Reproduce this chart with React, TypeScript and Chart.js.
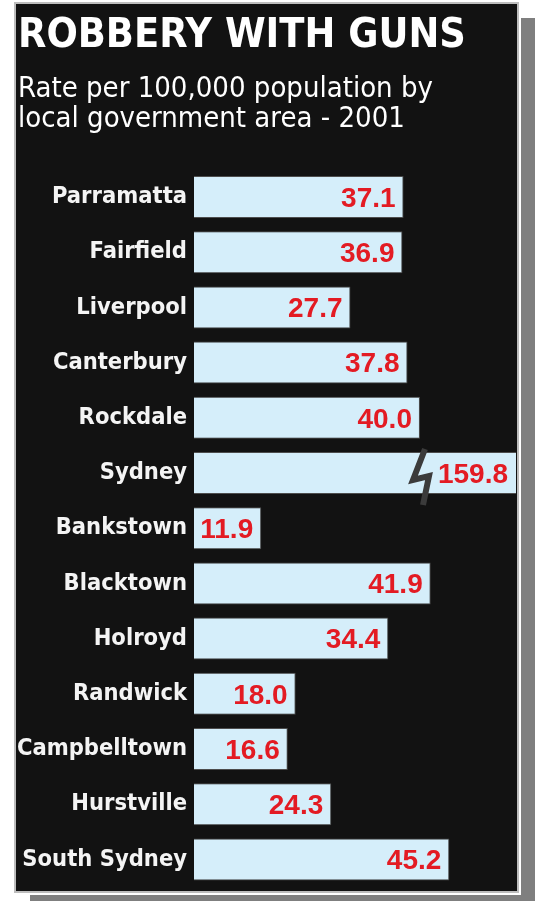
import React, { useEffect, useRef } from 'react';
import { Chart, registerables } from 'chart.js';

Chart.register(...registerables);

const categories = [
  'Parramatta',
  'Fairfield',
  'Liverpool',
  'Canterbury',
  'Rockdale',
  'Sydney',
  'Bankstown',
  'Blacktown',
  'Holroyd',
  'Randwick',
  'Campbelltown',
  'Hurstville',
  'South Sydney',
];
const rates = [37.1, 36.9, 27.7, 37.8, 40.0, 159.8, 11.9, 41.9, 34.4, 18.0, 16.6, 24.3, 45.2];
const titleText = 'ROBBERY WITH GUNS';
const subtitleLines = ['Rate per 100,000 population by', 'local government area - 2001'];
const axisMax = 57;

const valueLabels = {
  id: 'valueLabels',
  afterDatasetsDraw(chart: any) {
    const ctx = chart.ctx;
    const meta = chart.getDatasetMeta(0);
    const area = chart.chartArea;
    ctx.save();
    meta.data.forEach((bar: any, i: number) => {
      const v = rates[i];
      const end = Math.min(bar.x, area.right);
      if (v > axisMax) {
        const cx = end - 95;
        const cy = bar.y;
        ctx.beginPath();
        ctx.moveTo(cx + 4, cy - 24);
        ctx.lineTo(cx - 8, cy + 7);
        ctx.lineTo(cx + 8, cy + 3);
        ctx.lineTo(cx + 2, cy + 32);
        ctx.strokeStyle = '#3b3b3b';
        ctx.lineWidth = 6;
        ctx.lineJoin = 'miter';
        ctx.stroke();
      }
      ctx.font = 'bold 28px "Liberation Sans", Arial, sans-serif';
      ctx.fillStyle = '#e31b23';
      ctx.textAlign = 'right';
      ctx.textBaseline = 'middle';
      ctx.fillText(v.toFixed(1), end - 8, bar.y + 2);
    });
    ctx.restore();
  },
};

export default function App() {
  const canvasRef = useRef<HTMLCanvasElement | null>(null);

  useEffect(() => {
    if (!canvasRef.current) return;
    const chart = new Chart(canvasRef.current, {
      type: 'bar',
      data: {
        labels: categories,
        datasets: [
          {
            data: rates,
            backgroundColor: '#d5eefa',
            borderColor: '#4d4d4d',
            borderWidth: 1,
            barPercentage: 0.76,
            categoryPercentage: 1,
          },
        ],
      },
      options: {
        animation: false,
        responsive: false,
        maintainAspectRatio: false,
        indexAxis: 'y',
        layout: { padding: { left: 2, right: 1, top: 0, bottom: 4 } },
        plugins: {
          legend: { display: false },
          tooltip: { enabled: false },
          title: {
            display: true,
            text: titleText,
            align: 'start',
            color: '#ffffff',
            font: { family: '"DejaVu Sans Condensed", sans-serif', size: 41, weight: 'bold', lineHeight: 1 },
            padding: { top: 12.3, bottom: 0 },
          },
          subtitle: {
            display: true,
            text: subtitleLines,
            align: 'start',
            color: '#ffffff',
            font: { family: '"DejaVu Sans Condensed", sans-serif', size: 29, weight: 'normal', lineHeight: 30 / 29 },
            padding: { top: 16.7, bottom: 35.4 },
          },
        },
        scales: {
          x: { display: false, min: 0, max: axisMax },
          y: {
            grid: { display: false, drawTicks: false },
            border: { display: false },
            ticks: {
              color: '#f4f4f4',
              padding: 7,
              font: { family: '"DejaVu Sans Condensed", sans-serif', size: 23.5, weight: 'bold' },
            },
            afterFit: (s: any) => {
              s.width = 176;
              s.paddingTop = 0;
              s.paddingBottom = 0;
            },
          },
        },
      },
      plugins: [valueLabels],
    });
    return () => chart.destroy();
  }, []);

  return (
    <div
      style={{
        position: 'absolute',
        left: 14,
        top: 2,
        width: 505,
        height: 891,
        boxSizing: 'border-box',
        background: '#121212',
        border: '2px solid #bdbdbd',
        boxShadow: '0 0 0 2px #ffffff, 16px 16px 0 #7f7f7f',
      }}
    >
      <canvas ref={canvasRef} width={501} height={887} style={{ display: 'block' }} />
    </div>
  );
}
